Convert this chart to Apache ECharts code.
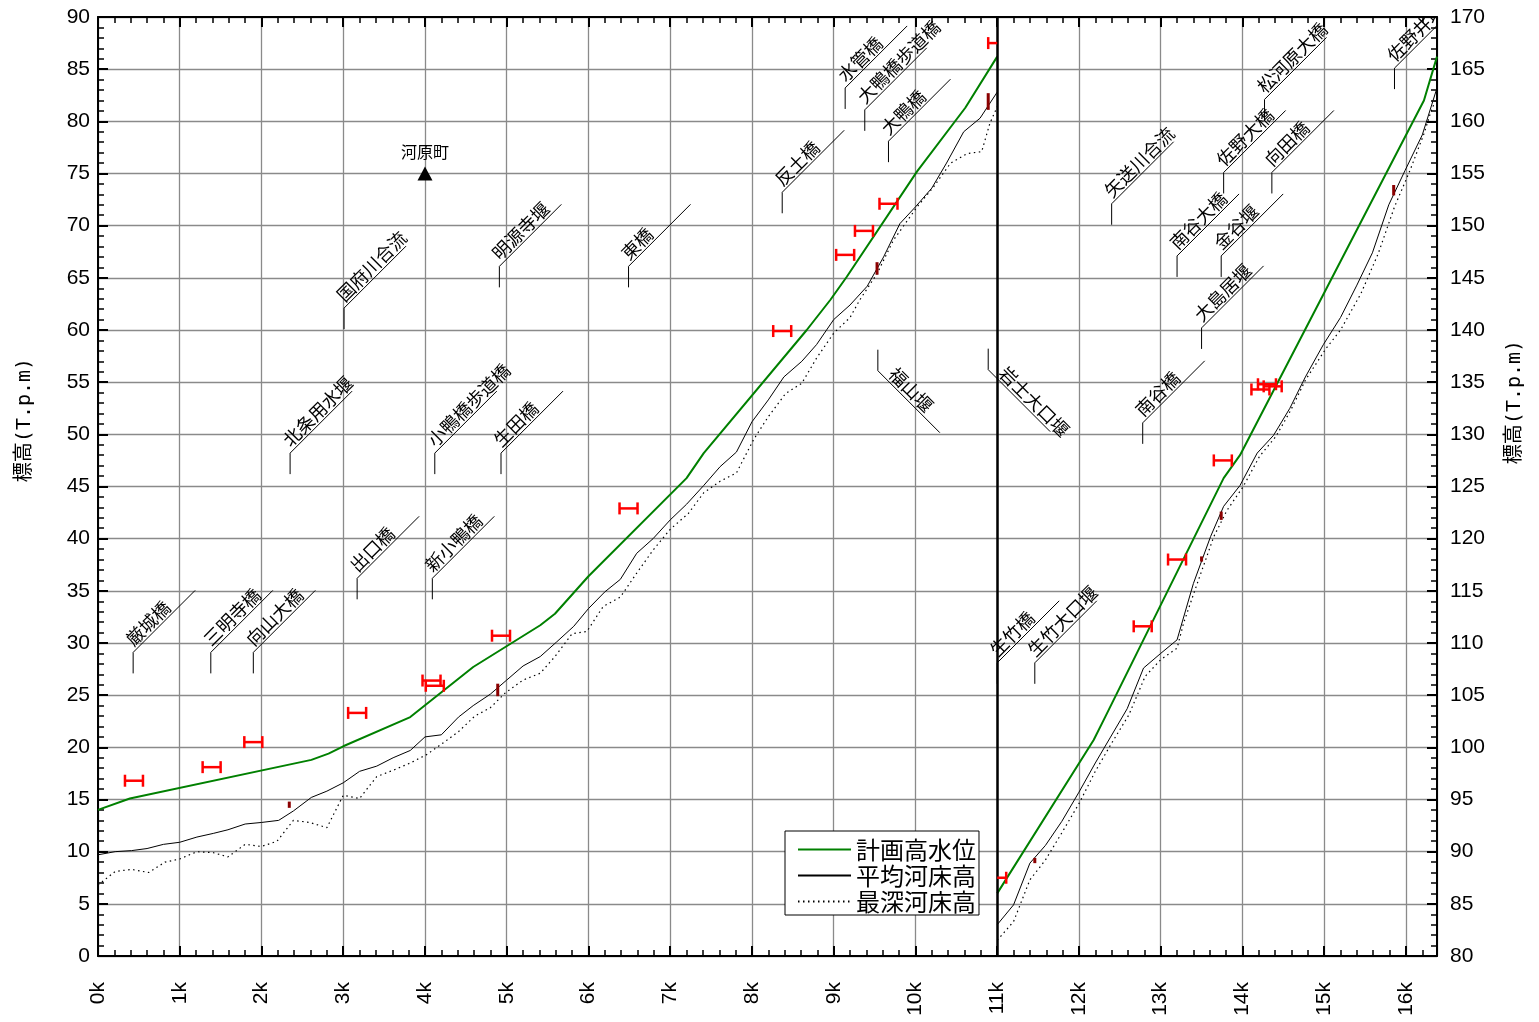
<!DOCTYPE html>
<html>
<head>
<meta charset="utf-8">
<title>縦断図</title>
<script src="https://cdn.jsdelivr.net/npm/echarts@6/dist/echarts.min.js"></script>
<style>
  html, body { margin: 0; padding: 0; background: #fff; }
  #chart { width: 1539px; height: 1022px; }
</style>
</head>
<body>
<div id="chart"></div>
<script>
// ---- distance range (km) and the break between the two reaches ----
const KM_MAX = 16.38;
const SPLIT_KM = 11;

// ---- series names ----
const seriesNames = ['計画高水位', '平均河床高', '最深河床高'];

// ---- reach 0k–11k, left axis (T.P.m) ----
const planDown = [[0,14.0],[0.39,15.1],[2.61,18.8],[2.82,19.4],[3.0,20.1],[3.82,22.9],[4.59,27.7],[5.41,31.7],[5.59,32.8],[6.0,36.4],[7.2,45.8],[7.41,48.2],[8.67,60.0],[8.96,62.9],[9.16,65.1],[10.02,75.2],[10.61,81.3],[11.0,86.2]];
const bedAvgDown = [[0,9.7],[0.21,10.0],[0.41,10.1],[0.6,10.3],[0.8,10.7],[1.0,10.9],[1.21,11.4],[1.41,11.75],[1.59,12.1],[1.8,12.65],[2.0,12.8],[2.21,13.0],[2.39,13.9],[2.61,15.2],[2.8,15.8],[3.0,16.6],[3.2,17.7],[3.41,18.2],[3.61,19.0],[3.82,19.7],[4.0,21.0],[4.2,21.2],[4.41,22.9],[4.59,24.0],[4.8,25.1],[5.0,26.45],[5.2,27.8],[5.41,28.7],[5.61,30.1],[5.82,31.6],[6.0,33.3],[6.2,34.9],[6.39,36.1],[6.59,38.6],[6.79,40.0],[7.0,41.8],[7.2,43.3],[7.41,45.1],[7.61,46.9],[7.81,48.3],[8.0,51.2],[8.2,53.3],[8.39,55.5],[8.61,57.0],[8.79,58.6],[9.0,61.0],[9.2,62.4],[9.41,64.2],[9.61,67.0],[9.81,70.2],[10.0,71.8],[10.2,73.6],[10.38,76.0],[10.59,79.0],[10.79,80.3],[11.0,82.8]];
const bedDeepDown = [[0,6.8],[0.21,8.1],[0.41,8.3],[0.62,8.0],[0.82,9.0],[1.0,9.3],[1.21,10.0],[1.41,9.9],[1.59,9.5],[1.8,10.7],[2.0,10.5],[2.19,11.0],[2.39,13.0],[2.59,12.8],[2.8,12.3],[3.0,15.4],[3.2,15.1],[3.41,17.2],[3.61,17.8],[3.82,18.5],[4.02,19.3],[4.2,20.3],[4.41,21.5],[4.61,23.0],[4.8,23.8],[4.98,25.2],[5.2,26.45],[5.41,27.1],[5.59,28.7],[5.8,30.9],[5.98,31.1],[6.18,33.5],[6.39,34.4],[6.59,36.7],[6.79,38.9],[7.0,40.9],[7.22,42.4],[7.41,44.4],[7.61,45.5],[7.81,46.3],[8.02,49.5],[8.2,51.7],[8.41,53.9],[8.61,54.9],[8.79,57.3],[9.0,59.7],[9.2,61.2],[9.32,62.9],[9.53,65.4],[9.73,68.6],[10.02,71.8],[10.22,73.7],[10.43,76.0],[10.63,76.9],[10.81,77.1],[10.91,79.8],[11.0,81.4]];

// ---- reach 11k–, right axis (T.P.m) ----
const planUp = [[11.0,86.0],[12.18,100.7],[12.32,102.9],[13.77,125.8],[13.97,128.0],[16.22,162.0],[16.38,166.2]];
const bedAvgUp = [[11.0,83.0],[11.2,84.9],[11.4,88.9],[11.59,90.6],[11.79,92.9],[12.0,95.7],[12.2,98.5],[12.38,100.9],[12.59,103.7],[12.79,107.6],[13.0,109.0],[13.2,110.3],[13.4,115.7],[13.61,120.2],[13.77,123.1],[13.97,125.1],[14.18,128.2],[14.38,129.9],[14.58,132.5],[14.77,135.5],[14.99,138.6],[15.2,141.2],[15.4,144.3],[15.59,147.4],[15.79,152.0],[15.99,155.3],[16.2,158.7],[16.38,163.2]];
const bedDeepUp = [[11.0,81.5],[11.2,83.3],[11.4,87.3],[11.59,89.2],[11.79,91.8],[12.0,94.6],[12.2,97.7],[12.4,100.4],[12.61,103.1],[12.81,106.8],[13.0,108.4],[13.2,109.5],[13.28,111.9],[13.42,115.1],[13.65,120.2],[13.81,122.7],[14.01,125.0],[14.21,127.9],[14.41,129.8],[14.59,132.3],[14.77,135.2],[15.02,138.2],[15.2,140.0],[15.45,143.5],[15.66,147.3],[15.86,151.8],[16.05,155.3],[16.22,158.8],[16.3,160.8],[16.38,162.4]];

// ---- red range marks [km, elevation] ----
const rangeMarksDown = [[0.44,16.8],[1.39,18.1],[1.9,20.5],[3.17,23.3],[4.08,26.4],[4.12,25.9],[4.93,30.7],[6.49,42.9],[8.37,59.9],[9.14,67.2],[9.37,69.5],[9.67,72.1],[11.0,87.5]];
const rangeMarksUp = [[11.0,87.5],[12.78,111.6],[13.2,118.0],[13.76,127.5],[14.22,134.3],[14.3,134.8],[14.37,134.6]];

// ---- dark red height marks [km, low, high] ----
const heightMarksDown = [[2.34,14.2,14.8],[4.89,24.9,26.1],[9.53,65.3,66.5],[10.89,81.1,82.7]];
const heightMarksUp = [[11.46,88.9,89.4],[13.5,117.8,118.3],[13.74,121.8,122.6],[15.85,152.9,153.9]];

// ---- structure tags [name, km, elevation of leader bend, direction (1 up / -1 down)] ----
const tagsDown = [
  ['厳城橋', 0.43, 29.1, 1], ['三明寺橋', 1.38, 29.1, 1], ['向山大橋', 1.9, 29.1, 1],
  ['出口橋', 3.17, 36.2, 1], ['新小鴨橋', 4.09, 36.2, 1],
  ['北条用水堰', 2.35, 48.2, 1], ['小鴨橋歩道橋', 4.12, 48.2, 1], ['生田橋', 4.93, 48.2, 1],
  ['国府川合流', 3.01, 62.1, 1], ['明源寺堰', 4.91, 66.1, 1], ['東橋', 6.49, 66.1, 1],
  ['反土橋', 8.37, 73.2, 1], ['水管橋', 9.14, 83.2, 1], ['大鴨橋歩道橋', 9.38, 81.1, 1], ['大鴨橋', 9.67, 78.1, 1],
  ['福山堰', 9.54, 56.1, -1], ['岩士大口堰', 10.89, 56.2, -1]
];
const tagsUp = [
  ['生竹橋', 11.0, 108.1, 1], ['生竹大口堰', 11.46, 108.1, 1],
  ['南谷橋', 12.78, 131.1, 1], ['大島居堰', 13.5, 140.2, 1],
  ['南谷大橋', 13.2, 147.1, 1], ['金谷堰', 13.74, 147.1, 1],
  ['矢送川合流', 12.4, 152.1, 1], ['佐野大橋', 13.77, 155.1, 1], ['向田橋', 14.36, 155.1, 1],
  ['松河原大橋', 14.27, 162.1, 1], ['佐野井堰', 15.86, 165.1, 1]
];

// ---- point landmark ----
const placeMarks = [[4.0, 75, '河原町']];

const CJK = '"Noto Sans CJK JP", "Noto Sans", sans-serif';
const LATIN = '"Liberation Sans", Arial, sans-serif';

// I-beam range mark, clipped at the reach break on the given side
function beamRenderer(side) {
  return function (params, api) {
    const c = api.coord([api.value(0), api.value(1)]);
    const xs = api.coord([SPLIT_KM, 0])[0];
    const hw = 9, ch = 6;
    const lo = side === 'up' ? xs : -Infinity;
    const hi = side === 'down' ? xs : Infinity;
    const x0 = c[0] - hw, x1 = c[0] + hw;
    const a = Math.max(x0, lo), b = Math.min(x1, hi);
    const st = { stroke: '#ff0000', lineWidth: 2.5 };
    const kids = [{ type: 'line', shape: { x1: a, y1: c[1], x2: b, y2: c[1] }, style: st }];
    if (x0 >= lo) kids.push({ type: 'line', shape: { x1: x0, y1: c[1] - ch, x2: x0, y2: c[1] + ch }, style: st });
    if (x1 <= hi) kids.push({ type: 'line', shape: { x1: x1, y1: c[1] - ch, x2: x1, y2: c[1] + ch }, style: st });
    return { type: 'group', children: kids };
  };
}

function heightRenderer(params, api) {
  const p0 = api.coord([api.value(0), api.value(1)]);
  const p1 = api.coord([api.value(0), api.value(2)]);
  return { type: 'line', shape: { x1: p0[0], y1: p0[1], x2: p1[0], y2: p1[1] },
           style: { stroke: '#8b0000', lineWidth: 3 } };
}

// leader line (stub + 45° diagonal) with slanted tag text
function tagRenderer(list) {
  return function (params, api) {
    const t = list[params.dataIndex];
    const p = api.coord([api.value(0), api.value(1)]);
    const dir = t[3];
    const stub = 21, diag = 62, r = Math.SQRT1_2;
    let pts, tx, ty, rot;
    if (dir > 0) {
      pts = [[p[0], p[1] + stub], [p[0], p[1]], [p[0] + diag, p[1] - diag]];
      const along = 4, perp = 1;
      tx = p[0] + along * r - perp * r;
      ty = p[1] - along * r - perp * r;
      rot = Math.PI / 4;
    } else {
      pts = [[p[0], p[1] - stub], [p[0], p[1]], [p[0] + diag, p[1] + diag]];
      const along = 10, perp = 1;
      tx = p[0] + along * r + perp * r;
      ty = p[1] + along * r - perp * r;
      rot = -Math.PI / 4;
    }
    return {
      type: 'group',
      children: [
        { type: 'polyline', shape: { points: pts }, style: { stroke: '#000', lineWidth: 1, fill: null } },
        { type: 'text', x: tx, y: ty, rotation: rot,
          style: { text: t[0], fill: '#000', font: '18px ' + CJK, textAlign: 'left', textVerticalAlign: 'bottom' } }
      ]
    };
  };
}

function lineSeries(name, data, yIdx, style, extra) {
  return Object.assign({
    type: 'line', name: name, data: data, xAxisIndex: 0, yAxisIndex: yIdx,
    symbol: 'none', showSymbol: false, smooth: false, lineStyle: style,
    itemStyle: { color: style.color }, z: 4
  }, extra || {});
}

const chart = echarts.init(document.getElementById('chart'), null, { renderer: 'canvas' });

const tickCommon = {
  axisLine: { show: true, onZero: false, lineStyle: { color: '#000', width: 2 } },
  axisTick: { show: true, inside: true, length: 10, lineStyle: { color: '#000', width: 2 } },
  minorTick: { show: true, splitNumber: 5, length: 6, lineStyle: { color: '#000', width: 1.5 } }
};

const option = {
  animation: false,
  backgroundColor: '#fff',
  grid: { left: 98, right: 102, top: 17, bottom: 66, containLabel: false, outerBoundsMode: 'none' },
  legend: {
    data: seriesNames,
    orient: 'vertical', left: 785, top: 831,
    padding: [6, 3, 1, 12], itemGap: 1, itemWidth: 53, itemHeight: 14,
    backgroundColor: '#fff', borderColor: '#000', borderWidth: 1, borderRadius: 0,
    selectedMode: false,
    itemStyle: { opacity: 0 },
    textStyle: { fontSize: 24, lineHeight: 25, fontFamily: CJK, color: '#000' },
    z: 10
  },
  xAxis: [
    Object.assign({
      type: 'value', min: 0, max: KM_MAX, interval: 1, position: 'bottom',
      axisLabel: { show: true, rotate: 90, margin: 26, fontSize: 21, fontFamily: LATIN, color: '#000',
                   showMaxLabel: false, formatter: function (v) { return v + 'k'; } },
      splitLine: { show: true, lineStyle: { color: '#8a8a8a', width: 1.3 } }
    }, tickCommon),
    Object.assign({
      type: 'value', min: 0, max: KM_MAX, interval: 1, position: 'top',
      axisLabel: { show: false }, splitLine: { show: false }
    }, tickCommon)
  ],
  yAxis: [
    Object.assign({
      type: 'value', min: 0, max: 90, interval: 5, position: 'left',
      axisLabel: { fontSize: 21, fontFamily: LATIN, color: '#000', margin: 8 },
      splitLine: { show: true, lineStyle: { color: '#8a8a8a', width: 1.3 } }
    }, tickCommon),
    Object.assign({
      type: 'value', min: 80, max: 170, interval: 5, position: 'right',
      axisLabel: { fontSize: 21, fontFamily: LATIN, color: '#000', margin: 13 },
      splitLine: { show: false }
    }, tickCommon)
  ],
  graphic: [
    { type: 'text', x: 25, y: 420, rotation: Math.PI / 2,
      style: { text: '標高(T.p.m)', font: '20px "DejaVu Sans Mono", ' + CJK, fill: '#000', textAlign: 'center', textVerticalAlign: 'middle' } },
    { type: 'text', x: 1515, y: 402, rotation: Math.PI / 2,
      style: { text: '標高(T.p.m)', font: '20px "DejaVu Sans Mono", ' + CJK, fill: '#000', textAlign: 'center', textVerticalAlign: 'middle' } }
  ],
  series: [
    lineSeries(seriesNames[0], planDown, 0, { color: '#008000', width: 2 }, {
      markLine: {
        silent: true, symbol: 'none', label: { show: false },
        lineStyle: { color: '#000', width: 2.5, type: 'solid' },
        data: [{ xAxis: SPLIT_KM }]
      }
    }),
    lineSeries(seriesNames[0], planUp, 1, { color: '#008000', width: 2 }),
    lineSeries(seriesNames[1], bedAvgDown, 0, { color: '#000', width: 1 }),
    lineSeries(seriesNames[1], bedAvgUp, 1, { color: '#000', width: 1 }),
    lineSeries(seriesNames[2], bedDeepDown, 0, { color: '#000', width: 1.2, type: [1.5, 3.5] }),
    lineSeries(seriesNames[2], bedDeepUp, 1, { color: '#000', width: 1.2, type: [1.5, 3.5] }),
    { type: 'custom', name: 'rangeDown', xAxisIndex: 0, yAxisIndex: 0, data: rangeMarksDown,
      encode: { x: 0, y: 1 }, renderItem: beamRenderer('down'), z: 5, silent: true },
    { type: 'custom', name: 'rangeUp', xAxisIndex: 0, yAxisIndex: 1, data: rangeMarksUp,
      encode: { x: 0, y: 1 }, renderItem: beamRenderer('up'), z: 5, silent: true },
    { type: 'custom', name: 'heightDown', xAxisIndex: 0, yAxisIndex: 0, data: heightMarksDown,
      encode: { x: 0, y: [1, 2] }, renderItem: heightRenderer, z: 5, silent: true },
    { type: 'custom', name: 'heightUp', xAxisIndex: 0, yAxisIndex: 1, data: heightMarksUp,
      encode: { x: 0, y: [1, 2] }, renderItem: heightRenderer, z: 5, silent: true },
    { type: 'custom', name: 'tagsDown', xAxisIndex: 0, yAxisIndex: 0, clip: true,
      data: tagsDown.map(function (t) { return [t[1], t[2]]; }),
      encode: { x: 0, y: 1 }, renderItem: tagRenderer(tagsDown), z: 3, silent: true },
    { type: 'custom', name: 'tagsUp', xAxisIndex: 0, yAxisIndex: 1, clip: true,
      data: tagsUp.map(function (t) { return [t[1], t[2]]; }),
      encode: { x: 0, y: 1 }, renderItem: tagRenderer(tagsUp), z: 3, silent: true },
    { type: 'scatter', name: 'place', xAxisIndex: 0, yAxisIndex: 0, silent: true,
      symbol: 'triangle', symbolSize: [15, 14], itemStyle: { color: '#000', opacity: 1 },
      data: placeMarks.map(function (p) { return { value: [p[0], p[1]], name: p[2] }; }),
      label: { show: true, position: 'top', distance: 7, formatter: '{b}', fontSize: 16, fontFamily: CJK, color: '#000' },
      z: 5 }
  ]
};

chart.setOption(option);
</script>
</body>
</html>
